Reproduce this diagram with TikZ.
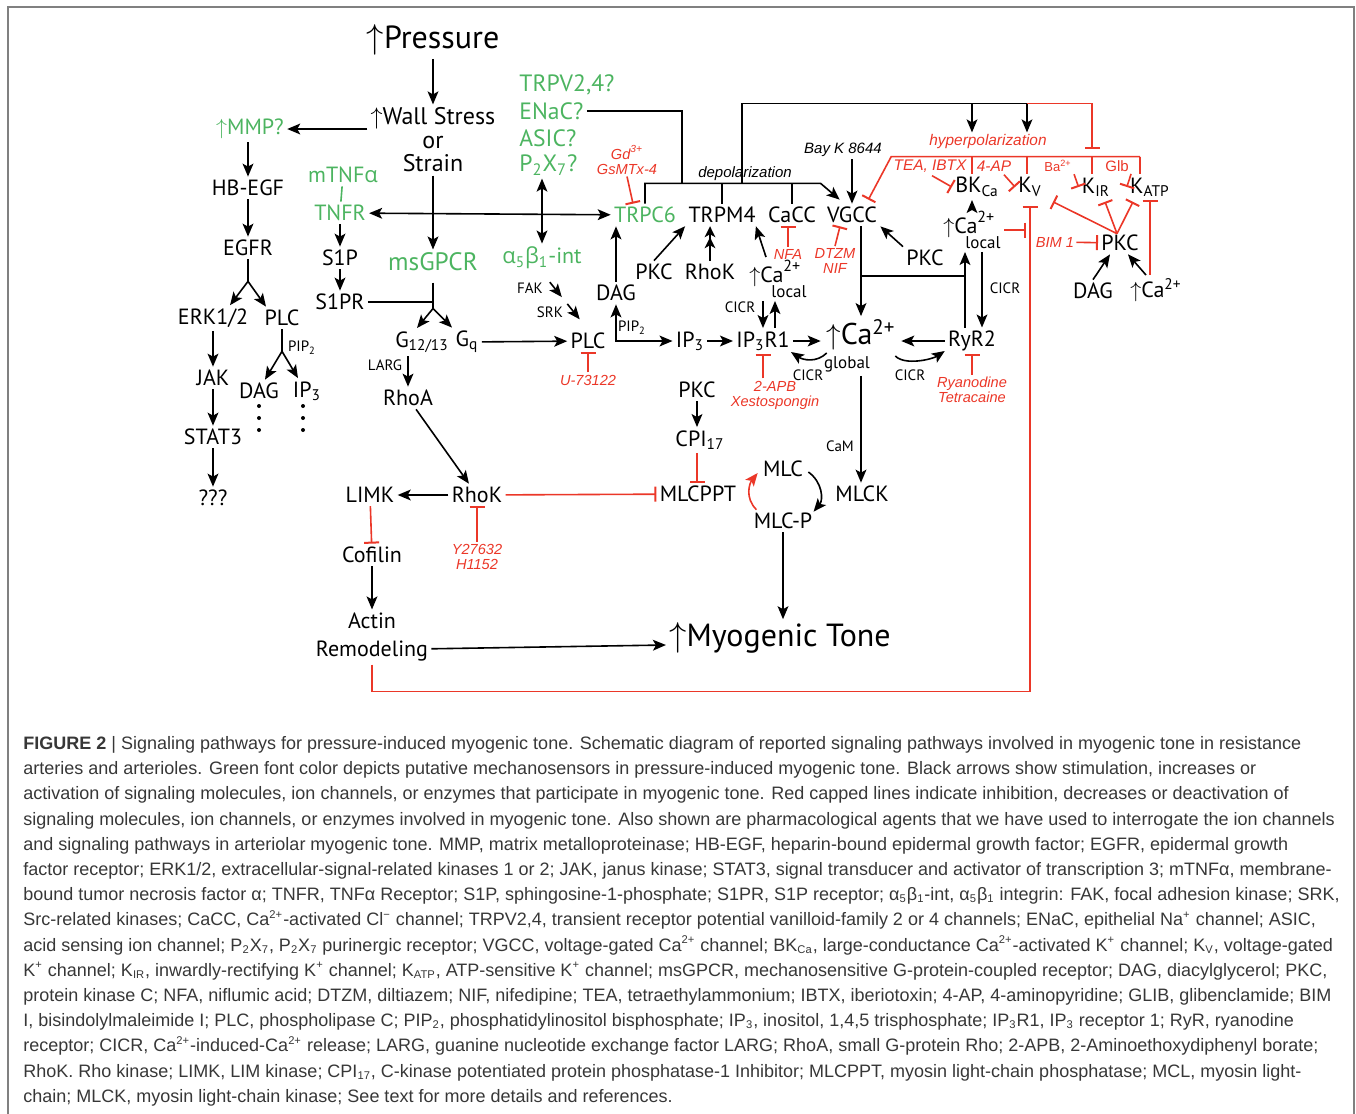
\documentclass[tikz,border=0pt]{standalone}
\usepackage{amsmath}
\usepackage{fontspec}
\newfontfamily\dia{PT Sans}
\newfontfamily\grk{Open Sans}
\newfontfamily\capfont{Liberation Sans}
\usetikzlibrary{arrows.meta,calc,positioning}
\definecolor{mgreen}{RGB}{76,180,96}
\definecolor{mred}{RGB}{235,55,40}
\definecolor{capgray}{RGB}{55,55,55}
\definecolor{framegray}{RGB}{128,128,128}
\newcommand{\incr}{\ensuremath{\uparrow}}
\newcommand{\al}{{\grk α}}
\newcommand{\be}{{\grk β}}
\newcommand{\caloc}{\incr Ca\rlap{\raisebox{0.5em}{\fontsize{8}{8}\selectfont 2+}}\hspace{-6pt}\raisebox{-0.66em}{\fontsize{8.5}{9}\selectfont local}}
\newcommand{\csub}[1]{\textsubscript{\fontsize{5.6}{6}\selectfont #1}}
\newcommand{\csup}[1]{\textsuperscript{\fontsize{5.6}{6}\selectfont #1}}
\tikzset{
  mol/.style={font=\dia\fontsize{11}{12}\selectfont,inner sep=1.5pt},
  sensor/.style={mol,text=mgreen},
  mid/.style={font=\dia\fontsize{12}{11.75}\selectfont,inner sep=1.5pt,align=center},
  big/.style={font=\dia\fontsize{16}{17}\selectfont,inner sep=1.5pt},
  tag/.style={font=\dia\fontsize{7.5}{9}\selectfont,inner sep=1pt},
  drug/.style={font=\capfont\itshape\fontsize{7.3}{7.5}\selectfont,text=mred,inner sep=1pt,align=center},
  note/.style={font=\capfont\itshape\fontsize{7.5}{9}\selectfont,inner sep=1pt},
  % black arrows: stimulation, red bars: inhibition
  act/.style={-{Stealth[length=6.5pt,width=5.4pt,inset=1.5pt]},line width=0.8pt},
  twoway/.style={{Stealth[length=6.5pt,width=5.4pt,inset=1.5pt]}-{Stealth[length=6.5pt,width=5.4pt,inset=1.5pt]},line width=0.8pt},
  dbl/.style={-{Stealth[length=5.5pt,width=5.4pt,inset=1.5pt] Stealth[length=5.5pt,width=5.4pt,inset=1.5pt]},line width=0.8pt},
  inh/.style={-{Bar[width=7.5pt,line width=1pt]},draw=mred,line width=0.8pt},
  link/.style={line width=0.8pt}
}
\begin{document}
\begin{tikzpicture}[x=0.5pt,y=-0.5pt]
  \useasboundingbox (0,0) rectangle (1356,1114);
  \draw[framegray,line width=1pt] (8,1114) -- (8,7) -- (1354,7) -- (1354,1114);
  % mechanical input and sensors
  \node[big] (press) at (433,40) {\incr Pressure};
  \node[mid] (wall) at (433,140) {\incr Wall Stress\\or\\Strain};
  \node[sensor,anchor=west,font=\dia\fontsize{11.8}{12}\selectfont] (trpv) at (516,85) {TRPV2,4?};
  \node[sensor,anchor=west,font=\dia\fontsize{11.8}{12}\selectfont] (enac) at (516,111) {ENaC?};
  \node[sensor,anchor=west,font=\dia\fontsize{11.8}{12}\selectfont] (asic) at (516,138) {ASIC?};
  \node[sensor,anchor=west,font=\dia\fontsize{11.8}{12}\selectfont] (p2x) at (516,165) {P$_{\text{2}}$X$_{\text{7}}$?};
  % EGFR branch
  \node[sensor] (mmp) at (250,129) {\incr MMP?};
  \node[mol] (hbegf) at (248,188) {HB-EGF};
  \node[mol] (egfr) at (248,248) {EGFR};
  \node[mol] (erk) at (213,318) {ERK1/2};
  \node[mol] (plcL) at (282,318) {PLC};
  \node[mol] (jak) at (213,378) {JAK};
  \node[mol] (stat) at (213,437) {STAT3};
  \node[mol] (unk) at (213,498) {???};
  \node[mol] (dagL) at (259,391) {DAG};
  \node[mol] (ipL) at (307,391) {IP$_{\text{3}}$};
  \node[tag] (pipL) at (302,348) {PIP$_{\text{2}}$};
  % TNF and GPCR branch
  \node[sensor] (tnfa) at (343,175) {mTNF\al};
  \node[sensor] (tnfr) at (340,213) {TNFR};
  \node[mol] (s1p) at (340,258) {S1P};
  \node[mol] (s1pr) at (340,302) {S1PR};
  \node[mid,text=mgreen,font=\dia\fontsize{12.6}{12}\selectfont] (msg) at (433,262) {msGPCR};
  \node[mol] (g12) at (422,342) {G$_{\text{12/13}}$};
  \node[mol] (gq) at (467,342) {G$_{\text{q}}$};
  \node[tag] (larg) at (385,365) {LARG};
  \node[mol] (rhoa) at (408,398) {RhoA};
  \node[mol] (rhok) at (477,495) {RhoK};
  \node[mol] (limk) at (370,495) {LIMK};
  \node[drug] (y27) at (477,557) {Y27632\\H1152};
  \node[mol] (cof) at (372,555) {Cofilin};
  \node[mol,align=center,font=\dia\fontsize{11}{14}\selectfont] (actin) at (372,637) {Actin\\Remodeling};
  \node[big] (tone) at (780,638) {\incr Myogenic Tone};
  % integrin and PLC
  \node[sensor] (itg) at (542,258) {\al$_{\text{5}}$\be$_{\text{1}}$-int};
  \node[mol] (plcM) at (588,341) {PLC};
  \node[drug] (u73) at (588,380) {U-73122};
  \node[mol] (dagM) at (616,293) {DAG};
  \node[tag] (pipM) at (632,328) {PIP$_{\text{2}}$};
  \node[mol] (ip3) at (690,341) {IP$_{\text{3}}$};
  \node[mol] (ip3r) at (763,341) {IP$_{\text{3}}$R1};
  \node[drug] (apb) at (775,395) {2-APB\\Xestospongin};
  \node[mol] (pkcM) at (697,390) {PKC};
  \node[mol] (cpi) at (700,440) {CPI$_{\text{17}}$};
  \node[mol] (mlcppt) at (698,494) {MLCPPT};
  \node[mol] (mlc) at (783,469) {MLC};
  \node[mol] (mlcp) at (783,521) {MLC-P};
  \node[mol] (mlck) at (862,494) {MLCK};
  % channels
  \node[sensor] (trpc6) at (645,215) {TRPC6};
  \node[mol] (trpm4) at (722,215) {TRPM4};
  \node[mol] (cacc) at (792,215) {CaCC};
  \node[mol] (vgcc) at (852,215) {VGCC};
  \node[drug] (gd) at (627,160) {Gd$^{\text{3+}}$\\GsMTx-4};
  \node[note] (depol) at (745,174) {depolarization};
  \node[note] (bayk) at (843,150) {Bay K 8644};
  \node[mol] (pkcA) at (654,272) {PKC};
  \node[mol] (rhokA) at (710,272) {RhoK};
  \node[mol] (calocA) at (778,279) {\caloc};
  \node[drug] (nfa) at (788,254) {NFA};
  \node[drug] (dtzm) at (835,261) {DTZM\\NIF};
  \node[mol] (pkcB) at (925,258) {PKC};
  % calcium
  \node[big,align=center,font=\dia\fontsize{15}{12}\selectfont] (caglob) at (861,346) {\incr Ca$^{\text{2+}}$\\{\fontsize{8.5}{9}\selectfont global}\hspace*{14pt}};
  \node[mol] (ryr) at (972,341) {RyR2};
  \node[drug] (ryan) at (972,390) {Ryanodine\\Tetracaine};
  \node[tag] (cicrA) at (740,307) {CICR};
  \node[tag] (cicrB) at (808,375) {CICR};
  \node[tag] (cicrC) at (910,375) {CICR};
  \node[tag] (cicrD) at (1005,288) {CICR};
  \node[tag] (cam) at (840,446) {CaM};
  \node[mol] (calocB) at (972,230) {\caloc};
  % potassium channels
  \node[mol] (bk) at (977,187) {BK$_{\text{Ca}}$};
  \node[mol] (kv) at (1030,187) {K$_{\text{V}}$};
  \node[mol] (kir) at (1096,187) {K$_{\text{IR}}$};
  \node[mol] (katp) at (1150,187) {K$_{\text{ATP}}$};
  \node[drug,font=\capfont\itshape\fontsize{7.7}{8}\selectfont] (hyper) at (988,142) {hyperpolarization};
  \node[drug,font=\capfont\itshape\fontsize{7.7}{8}\selectfont] (tea) at (930,166) {TEA, IBTX};
  \node[drug,font=\capfont\itshape\fontsize{7.7}{8}\selectfont] (ap4) at (994,166) {4-AP};
  \node[drug,font=\capfont\fontsize{6.5}{8}\selectfont] (ba) at (1058,166) {Ba$^{\text{2+}}$};
  \node[drug,font=\capfont\fontsize{7.5}{8}\selectfont] (glb) at (1117,166) {Glb};
  \node[drug] (bim) at (1055,242) {BIM 1};
  \node[mol] (pkcR) at (1120,243) {PKC};
  \node[mol] (dagR) at (1093,291) {DAG};
  \node[mol] (caR) at (1156,290) {\incr Ca$^{\text{2+}}$};

  % ---- connectors
  \draw[act] (press) -- (wall);
  \draw[act] (wall.west |- mmp) -- (mmp);
  \draw[act] (wall) -- (msg);
  \draw[act] (mmp.south -| hbegf) -- (hbegf);
  \draw[act] (hbegf) -- (egfr);
  \draw[link] (egfr.south) -- ++(0,22) coordinate (egfrS);
  \draw[act] (egfrS) -- ($(erk.north)+(17,0)$);
  \draw[act] (egfrS) -- ($(plcL.north)+(-16,0)$);
  \draw[act] (erk) -- (jak);
  \draw[act] (jak) -- (stat);
  \draw[act] (stat) -- (unk);
  \draw[link] (plcL.south) -- ++(0,22) coordinate (plcS);
  \draw[act] (plcS) -- ($(dagL.north)+(6,0)$);
  \draw[act] (plcS) -- ($(ipL.north)+(-9,0)$);
  \foreach \x in {259,303}
    \foreach \y in {406,418,430}
      \fill (\x,\y) circle (1pt);
  \draw[link,mgreen] (tnfa) -- (tnfr);
  \draw[twoway] (tnfr) -- (trpc6);
  \draw[act] (tnfr) -- (s1p);
  \draw[act] (s1p) -- (s1pr);
  \draw[link] (msg.south) ++(0,8) -- ++(0,26) coordinate (msgS);
  \draw[link] (s1pr.east) -- (s1pr.east -| msgS);
  \draw[act] (msgS) -- ($(g12.north)+(-5,0)$);
  \draw[act] (msgS) -- ($(gq.north)+(-15,0)$);
  \draw[act] (gq) -- (plcM);
  \draw[act] (g12.south -| rhoa) -- (rhoa);
  \draw[act] (rhoa) -- (rhok);
  \draw[act] (rhok) -- (limk);
  \draw[inh] (rhok) -- (mlcppt);
  \draw[inh] (y27) -- (rhok);
  \draw[inh] (limk) -- (cof);
  \draw[act] (cof) -- (actin);
  \draw[act] (actin.east |- tone.south west) ++(0,-8) -- ($(tone.west)+(0,7)$);
  \draw[inh,shorten >=3pt] (actin.south) -- ++(0,27) -| (kv.south);
  % integrin, PLC, IP3
  \draw[twoway] (p2x.south -| itg) -- (itg);
  \draw[act] ($(itg.south)!0.17!(plcM.north)$) -- ($(itg.south)!0.43!(plcM.north)$);
  \draw[act] ($(itg.south)!0.55!(plcM.north)$) -- ($(itg.south)!0.82!(plcM.north)$);
  \node[tag] (fak) at (530,288) {FAK};
  \node[tag] (srk) at (550,312) {SRK};
  \draw[inh] (u73) -- (plcM);
  \draw[twoway] (dagM.south) |- (ip3.west);
  \draw[act] (dagM.north) -- (dagM.north |- trpc6.south);
  \draw[act] (ip3) -- (ip3r);
  \draw[inh] (apb.north -| ip3r.south) -- (ip3r.south);
  \draw[act] (ip3r.east) -- (ip3r.east -| caglob.west);
  \draw[act] ($(caglob.west)+(6,7)$) .. controls +(-10,10) and +(12,8) .. ($(ip3r.east)+(-2,11)$);
  \draw[act] ($(caglob.east)+(-6,10)$) .. controls +(10,10) and +(-12,8) .. ($(ryr.west)+(0,10)$);
  \draw[act] (ryr.west) -- (ryr.west -| caglob.east);
  \draw[inh] (ryan) -- (ryr);
  \draw[act] (pkcM) -- (cpi.north -| pkcM);
  \draw[inh] (cpi.south -| pkcM) -- (mlcppt.north -| pkcM);
  \draw[act] ($(mlc.east)+(2,3)$) .. controls +(14,10) and +(10,-12) .. ($(mlcp.north east)+(-2,2)$);
  \draw[act,mred] ($(mlcp.north west)+(6,0)$) .. controls +(-12,-12) and +(-8,10) .. ($(mlc.west)+(-2,4)$);
  \draw[act] (mlcp) -- (mlcp |- tone.north);
  \draw[act] (caglob.south) -- (caglob.south |- mlck.north);
  % channels and depolarization
  \draw[inh] (gd.south) -- ($(trpc6.north)+(-12,0)$);
  \draw[act] (pkcA.north) -- (trpm4.south west);
  \draw[dbl] (rhokA) -- (rhokA |- trpm4.south);
  \draw[act] ($(calocA.north)+(-12,0)$) -- ($(trpm4.south east)+(-3,0)$);
  \draw[act] (ip3r.north |- calocA.south) -- (ip3r.north);
  \coordinate (ipU) at ($(ip3r.north)+(12,0)$);
  \draw[act] (ipU) -- (ipU |- calocA.south);
  \draw[inh] (nfa.north) -- (nfa.north |- cacc.south);
  \draw[inh] (dtzm.north) -- ($(vgcc.south)+(-12,0)$);
  \draw[act] (bayk.south -| vgcc.north) -- (vgcc.north);
  \draw[act] (pkcB.north west) -- (vgcc.south east);
  \draw[act] (trpc6.north) |- ($(depol.south -| vgcc.north west)+(-3,0)$) -- ($(vgcc.north west)+(16,-4)$);
  \draw[link] (trpm4.north) -- (trpm4.north |- depol.south);
  \draw[link] (cacc.north) -- (cacc.north |- depol.south);
  \coordinate (depJ) at ($(trpc6.north |- depol.south)+(37,0)$);
  \draw[link] (enac.east) -| (depJ);
  \coordinate (depK) at ($(trpc6.north |- depol.south)+(97,0)$);
  \coordinate (polT) at ($(depK)+(0,-80)$);
  % Ca2+ handling near RyR2
  \draw[act] (vgcc.south -| caglob.north) -- (caglob.north);
  \coordinate (vj) at ($(vgcc.south -| caglob.north)!0.55!(caglob.north)$);
  \coordinate (ryrU) at ($(ryr.north)+(-7,0)$);
  \coordinate (ryrD) at ($(ryr.north)+(10,0)$);
  \draw[act] (ryrU) -- (ryrU |- calocB.south);
  \draw[act] (ryrD |- calocB.south) -- (ryrD);
  \draw[link] (vj) -- (vj -| ryrU);
  \draw[act] (calocB.north) -- (calocB.north |- bk.south);
  \draw[inh,shorten >=2pt] (calocB.east) -- (calocB.east -| kv.south);
  % hyperpolarization
  \coordinate (hypL) at ($(hyper.south)+(0,5)$);
  \coordinate (bkx) at ($(bk.north)+(-5,0)$);
  \coordinate (kvx) at ($(kv.north)+(-3,0)$);
  \coordinate (kirx) at ($(kir.north)+(-4,0)$);
  \coordinate (katpx) at ($(katp.north)+(-10,0)$);
  \draw[link] (depK) -- (polT) -- (polT -| kvx);
  \draw[act] (polT -| bkx) -- (bkx |- hyper.north);
  \draw[act] (polT -| kvx) -- (kvx |- hyper.north);
  \draw[inh] (polT -| kvx) -| ($(kirx |- hypL)+(0,-8)$);
  \draw[inh] (katpx |- hypL) -- (hypL -| tea.west) -- ($(vgcc.north east)+(-12,-4)$);
  \foreach \k in {bkx,kvx,kirx,katpx}
    \draw[link,mred] (\k |- hypL) -- (\k);
  \draw[inh] ($(tea.south)+(2,1)$) -- (bk.west);
  \draw[inh] ($(ap4.south)+(10,1)$) -- (kv.west);
  \draw[inh] (ba.south east) -- (kir.west);
  \draw[inh] (glb.south east) -- (katp.west);
  % PKC on K channels
  \draw[inh] (bim) -- (pkcR);
  \coordinate (pkcTop) at ($(pkcR.north)+(-3,2)$);
  \draw[inh] (pkcTop) -- ($(kv.south east)+(8,2)$);
  \draw[inh] (pkcTop) -- ($(kir.south)+(9,2)$);
  \draw[inh] (pkcTop) -- ($(katp.south)+(-17,2)$);
  \draw[inh] (katp.south |- caR.north) -- (katp.south);
  \draw[act] (dagR.north) -- ($(pkcR.south)+(-10,0)$);
  \draw[act] ($(caR.north)+(-10,0)$) -- ($(pkcR.south)+(8,0)$);

  % caption
  \node[anchor=north west,align=left,inner sep=0pt,text=capgray,
    font=\capfont\fontsize{9.0}{12.6}\selectfont] (caption) at (23,736) {%
{\bfseries FIGURE 2} | Signaling pathways for pressure-induced myogenic tone. Schematic diagram of reported signaling pathways involved in myogenic tone in resistance\\
arteries and arterioles. Green font color depicts putative mechanosensors in pressure-induced myogenic tone. Black arrows show stimulation, increases or\\
activation of signaling molecules, ion channels, or enzymes that participate in myogenic tone. Red capped lines indicate inhibition, decreases or deactivation of\\
signaling molecules, ion channels, or enzymes involved in myogenic tone. Also shown are pharmacological agents that we have used to interrogate the ion channels\\
and signaling pathways in arteriolar myogenic tone. MMP, matrix metalloproteinase; HB-EGF, heparin-bound epidermal growth factor; EGFR, epidermal growth\\
factor receptor; ERK1/2, extracellular-signal-related kinases 1 or 2; JAK, janus kinase; STAT3, signal transducer and activator of transcription 3; mTNFα, membrane-\\
bound tumor necrosis factor α; TNFR, TNFα Receptor; S1P, sphingosine-1-phosphate; S1PR, S1P receptor; α\csub{5}β\csub{1}-int, α\csub{5}β\csub{1} integrin: FAK, focal adhesion kinase; SRK,\\
Src-related kinases; CaCC, Ca\csup{2+}-activated Cl\csup{−} channel; TRPV2,4, transient receptor potential vanilloid-family 2 or 4 channels; ENaC, epithelial Na\csup{+} channel; ASIC,\\
acid sensing ion channel; P\csub{2}X\csub{7}, P\csub{2}X\csub{7} purinergic receptor; VGCC, voltage-gated Ca\csup{2+} channel; BK\csub{Ca}, large-conductance Ca\csup{2+}-activated K\csup{+} channel; K\csub{V}, voltage-gated\\
K\csup{+} channel; K\csub{IR}, inwardly-rectifying K\csup{+} channel; K\csub{ATP}, ATP-sensitive K\csup{+} channel; msGPCR, mechanosensitive G-protein-coupled receptor; DAG, diacylglycerol; PKC,\\
protein kinase C; NFA, niflumic acid; DTZM, diltiazem; NIF, nifedipine; TEA, tetraethylammonium; IBTX, iberiotoxin; 4-AP, 4-aminopyridine; GLIB, glibenclamide; BIM\\
I, bisindolylmaleimide I; PLC, phospholipase C; PIP\csub{2}, phosphatidylinositol bisphosphate; IP\csub{3}, inositol, 1,4,5 trisphosphate; IP\csub{3}R1, IP\csub{3} receptor 1; RyR, ryanodine\\
receptor; CICR, Ca\csup{2+}-induced-Ca\csup{2+} release; LARG, guanine nucleotide exchange factor LARG; RhoA, small G-protein Rho; 2-APB, 2-Aminoethoxydiphenyl borate;\\
RhoK. Rho kinase; LIMK, LIM kinase; CPI\csub{17}, C-kinase potentiated protein phosphatase-1 Inhibitor; MLCPPT, myosin light-chain phosphatase; MCL, myosin light-\\
chain; MLCK, myosin light-chain kinase; See text for more details and references.};
\end{tikzpicture}
\end{document}
